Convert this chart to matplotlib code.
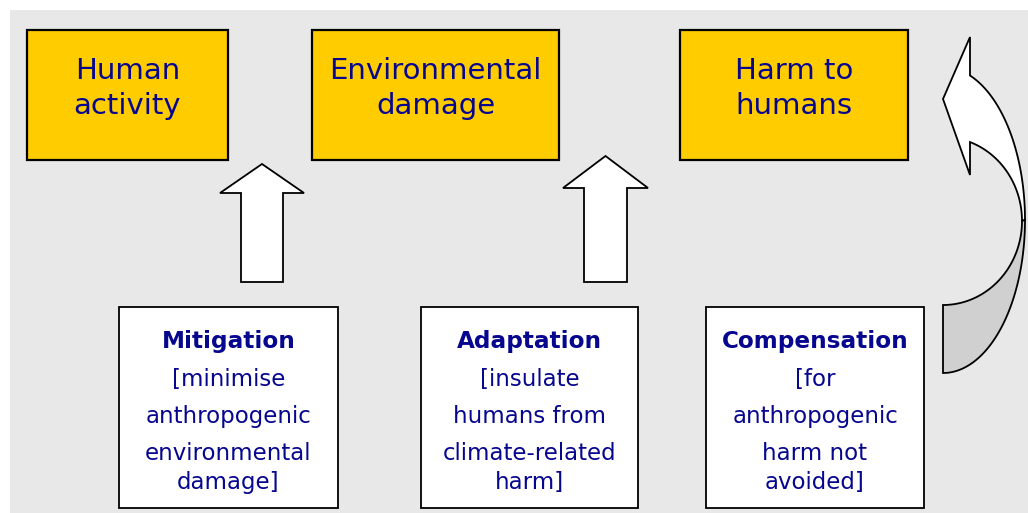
import numpy as np
import matplotlib
matplotlib.use("Agg")
import matplotlib.pyplot as plt
from matplotlib.patches import Rectangle, Polygon

# ---- content ----
top_labels = [["Human", "activity"], ["Environmental", "damage"], ["Harm to", "humans"]]
bottom_titles = ["Mitigation", "Adaptation", "Compensation"]
bottom_lines = [["[minimise", "anthropogenic", "environmental", "damage]"],
                ["[insulate", "humans from", "climate-related", "harm]"],
                ["[for", "anthropogenic", "harm not", "avoided]"]]

# ---- layout (pixel coordinates) ----
W, H = 1028, 513
top_boxes = [(27, 30, 228, 160), (312, 30, 559, 160), (680, 30, 908, 160)]
bot_boxes = [(119, 307, 338, 508), (421, 307, 638, 508), (706, 307, 924, 508)]
up_arrows = [  # shaft x0, x1, head x0, x1, tip y, head base y, bottom y
    (241, 283, 220, 304, 164, 193, 282),
    (584, 627, 563, 648, 156, 188, 282),
]
TXT = "#06068f"
YEL = "#ffcc00"
BG = "#e8e8e8"

fig = plt.figure(figsize=(W / 100, H / 100), dpi=100)
ax = fig.add_axes([0, 0, 1, 1])
ax.set_xlim(0, W)
ax.set_ylim(H, 0)
ax.axis("off")

ax.add_patch(Rectangle((10, 10), W - 10, H - 10, facecolor=BG, edgecolor="none", zorder=0))

for (x0, y0, x1, y1), lines in zip(top_boxes, top_labels):
    ax.add_patch(Rectangle((x0, y0), x1 - x0, y1 - y0, facecolor=YEL,
                           edgecolor="black", linewidth=1.6, zorder=2))
    cx = (x0 + x1) / 2
    for ln, by in zip(lines, [79, 114]):
        ax.text(cx, by, ln, ha="center", va="baseline", fontsize=21,
                color=TXT, family="DejaVu Sans", zorder=3)

for (x0, y0, x1, y1), title, lines in zip(bot_boxes, bottom_titles, bottom_lines):
    ax.add_patch(Rectangle((x0, y0), x1 - x0, y1 - y0, facecolor="white",
                           edgecolor="black", linewidth=1.3, zorder=2))
    cx = (x0 + x1) / 2
    ax.text(cx, 348, title, ha="center", va="baseline", fontsize=16.7,
            fontweight="bold", color=TXT, family="DejaVu Sans", zorder=3)
    for ln, by in zip(lines, [386, 423, 460, 489]):
        ax.text(cx, by, ln, ha="center", va="baseline", fontsize=16.5,
                color=TXT, family="DejaVu Sans", zorder=3)

for sx0, sx1, hx0, hx1, ty, hy, by in up_arrows:
    pts = [(sx0, by), (sx0, hy), (hx0, hy), ((hx0 + hx1) / 2, ty), (hx1, hy),
           (sx1, hy), (sx1, by)]
    ax.add_patch(Polygon(pts, closed=True, facecolor="white", edgecolor="black",
                         linewidth=1.3, joinstyle="miter", zorder=2))

# ---- curved return arrow ----
cx_e = 943
o_cy, o_rx, o_ry = 220, 82, 153   # outer ellipse
i_cy, i_rx, i_ry = 221, 79, 84    # inner ellipse
th_o = np.arccos((970 - cx_e) / o_rx)
th_i = np.arccos((970 - cx_e) / i_rx)

def arc(cy, rx, ry, a0, a1, n=80):
    t = np.linspace(a0, a1, n)
    return np.column_stack([cx_e + rx * np.cos(t), cy - ry * np.sin(t)])

outer_up = arc(o_cy, o_rx, o_ry, th_o, 0)
inner_up = arc(i_cy, i_rx, i_ry, 0, th_i)
top_o = tuple(outer_up[0])
top_i = tuple(inner_up[-1])
white_pts = np.vstack([[(943, 99), (970, 37)], outer_up, inner_up, [(970, 175)]])
ax.add_patch(Polygon(white_pts, closed=True, facecolor="white", edgecolor="black",
                     linewidth=1.3, joinstyle="miter", zorder=2))

outer_dn = arc(o_cy, o_rx, o_ry, 0, -np.pi / 2)
inner_dn = arc(i_cy, i_rx, i_ry, -np.pi / 2, 0)
gray_pts = np.vstack([outer_dn, inner_dn])
ax.add_patch(Polygon(gray_pts, closed=True, facecolor="#d0d0d0", edgecolor="black",
                     linewidth=1.3, joinstyle="miter", zorder=2))

fig.savefig("out.png", dpi=100)
